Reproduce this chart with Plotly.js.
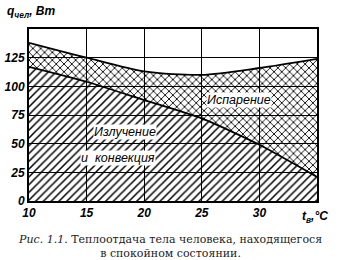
<!DOCTYPE html>
<html><head><meta charset="utf-8">
<script src="https://cdn.plot.ly/plotly-3.0.1.min.js"></script>
<style>html,body{margin:0;padding:0;background:#fff}#c{width:338px;height:260px}</style>
</head><body><div id="c"></div>
<script>
const temps = [10, 15, 20, 25, 30, 35];
const radConv = [117, 104, 88, 72, 49, 21];
const total = [138, 125, 113, 110, 116, 124];
const yTicks = [0, 25, 50, 75, 100, 125];
const xTicks = [10, 15, 20, 25, 30];

const tickFont = {family: 'Liberation Sans, Arial, sans-serif', size: 12, color: '#000', style: 'italic', weight: 'bold'};
const traces = [
  {x: temps, y: radConv, type: 'scatter', mode: 'lines', fill: 'tozeroy',
   line: {color: '#000', width: 1.8, shape: 'spline', smoothing: 0.6},
   fillcolor: 'rgba(0,0,0,0)',
   fillpattern: {shape: '/', size: 5.5, solidity: 0.28, fgcolor: '#000', bgcolor: 'rgba(0,0,0,0)'},
   hoverinfo: 'skip'},
  {x: temps, y: total, type: 'scatter', mode: 'lines', fill: 'tonexty',
   line: {color: '#000', width: 1.8, shape: 'spline', smoothing: 0.8},
   fillcolor: 'rgba(0,0,0,0)',
   fillpattern: {shape: 'x', size: 5.5, solidity: 0.3, fgcolor: '#000', bgcolor: 'rgba(0,0,0,0)'},
   hoverinfo: 'skip'}
];
const labelFont = {family: 'Liberation Sans, Arial, sans-serif', size: 12.5, color: '#000', style: 'italic'};
const layout = {
  width: 338, height: 260,
  margin: {l: 29, r: 21, t: 29, b: 59},
  paper_bgcolor: '#fff', plot_bgcolor: '#fff',
  showlegend: false,
  xaxis: {range: [10, 35], tickvals: xTicks, ticktext: xTicks.map(String),
    showgrid: true, gridcolor: '#000', gridwidth: 1, zeroline: false,
    showline: true, linecolor: '#000', linewidth: 2, mirror: true,
    ticks: '', tickfont: tickFont},
  yaxis: {range: [0, 150], tickvals: yTicks.concat([150]), ticktext: yTicks.map(String).concat(['']),
    showgrid: true, gridcolor: '#000', gridwidth: 1, zeroline: false,
    showline: true, linecolor: '#000', linewidth: 2, mirror: true,
    ticks: '', tickfont: tickFont},
  annotations: [
    {xref: 'paper', yref: 'paper', x: -0.085, y: 1.04, xanchor: 'left', yanchor: 'bottom',
     text: 'q<sub>чел</sub>, Вт', showarrow: false,
     font: {family: 'Liberation Sans, Arial, sans-serif', size: 12, color: '#000', style: 'italic', weight: 'bold'}},
    {xref: 'paper', yref: 'paper', x: 0.94, y: -0.035, xanchor: 'left', yanchor: 'top',
     text: 't<sub>в</sub>,°C', showarrow: false,
     font: {family: 'Liberation Sans, Arial, sans-serif', size: 12, color: '#000', style: 'italic', weight: 'bold'}},
    {x: 28.2, y: 88, text: 'Испарение', showarrow: false, bgcolor: '#fff', borderpad: 0, font: labelFont},
    {x: 18.3, y: 60, text: 'Излучение', showarrow: false, bgcolor: '#fff', borderpad: 0, font: labelFont},
    {x: 17.7, y: 37.5, text: 'и  конвекция', showarrow: false, bgcolor: '#fff', borderpad: 0, font: labelFont},
    {xref: 'paper', yref: 'paper', x: 0.49, y: -0.175, xanchor: 'center', yanchor: 'top',
     text: '<i>Рис. 1.1.</i> Теплоотдача тела человека, находящегося<br>в спокойном состоянии.',
     showarrow: false, align: 'center',
     font: {family: 'DejaVu Serif, Liberation Serif, serif', size: 11, color: '#222'}}
  ]
};
Plotly.newPlot('c', traces, layout, {staticPlot: true, displayModeBar: false});
</script></body></html>
